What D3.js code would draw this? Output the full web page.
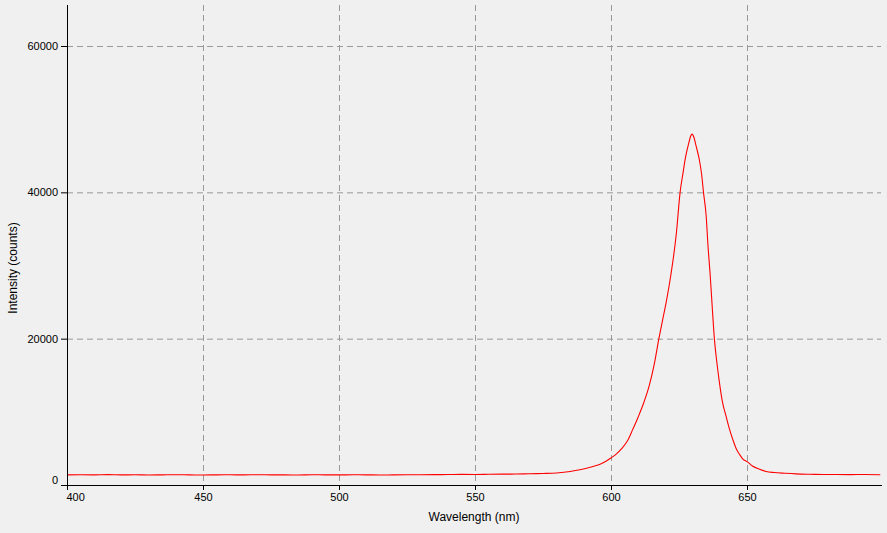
<!DOCTYPE html>
<html>
<head>
<meta charset="utf-8">
<script src="https://cdn.jsdelivr.net/npm/d3@7"></script>
<style>
  html, body { margin: 0; padding: 0; background: #f0f0f0; }
  svg { display: block; }
  text { font-family: "Liberation Sans", Arial, sans-serif; }
</style>
</head>
<body>
<svg id="chart" width="887" height="533"></svg>
<script>
// Wavelength (nm) and intensity (counts)
const wavelength = [400,405,410,415,420,425,430,435,440,445,450,455,460,465,470,475,480,485,490,495,
  500,505,510,515,520,525,530,535,540,545,550,555,560,565,570,575,580,585,588,591,594,596,598,600,
  602,604,606,608,610,612,614,616,617.6,619,620.3,622,624,625.4,626.5,627.4,628.5,629.3,629.8,630.5,
  631.3,632.5,633.3,634,635,635.6,636.5,637.2,638,639,639.9,641,642.3,643.5,644.8,646,647.3,648.5,650,
  652,654.6,657,660,664,668,673,678,683,688,693,699];
const intensity = [1380,1400,1390,1420,1380,1400,1370,1390,1410,1380,1370,1390,1400,1380,1410,1390,1380,1370,1400,1390,
  1380,1400,1390,1370,1380,1400,1410,1420,1430,1450,1440,1460,1480,1500,1540,1580,1650,1850,2050,2300,2600,2850,3200,3700,
  4250,5000,6000,7600,9300,11200,13500,16700,20000,22600,25000,28700,34300,40000,42700,44800,46600,47700,47950,47500,
  46300,44400,42500,40000,36700,33000,28500,24400,20000,16500,13900,11300,9400,7700,6200,5000,4150,3550,3200,
  2600,2150,1850,1700,1600,1520,1470,1440,1430,1420,1430,1410];
const xTicks = [400, 450, 500, 550, 600, 650];
const yTicks = [0, 20000, 40000, 60000];
const xTitle = "Wavelength (nm)";
const yTitle = "Intensity (counts)";

(function () {
const svg = d3.select("#chart");
const pL = 67, pR = 881, pT = 5, pB = 485;

const x = d3.scaleLinear().domain([400, 699.26]).range([pL, pR]);
const y = d3.scaleLinear().domain([0, 65604]).range([pB, pT]);

svg.append("rect").attr("width", 887).attr("height", 533).attr("fill", "#f0f0f0");

// grid
const grid = svg.append("g").attr("stroke", "#999").attr("stroke-width", 1).attr("stroke-dasharray", "6,4");
grid.selectAll("line.v").data(xTicks.filter(d => d > 400)).join("line").attr("class", "v")
  .attr("x1", d => x(d) + 0.5).attr("x2", d => x(d) + 0.5)
  .attr("y1", pT).attr("y2", pB);
grid.selectAll("line.h").data(yTicks.filter(d => d > 0)).join("line").attr("class", "h")
  .attr("y1", d => y(d) + 0.5).attr("y2", d => y(d) + 0.5)
  .attr("x1", pL).attr("x2", pR);

// spectrum
svg.append("clipPath").attr("id", "clip").append("rect")
  .attr("x", pL).attr("y", pT).attr("width", pR - pL).attr("height", pB - pT);
const pts = wavelength.map((w, i) => [w, intensity[i]]);
svg.append("path").datum(pts)
  .attr("clip-path", "url(#clip)")
  .attr("fill", "none").attr("stroke", "#ff0000").attr("stroke-width", 1.1)
  .attr("d", d3.line().curve(d3.curveMonotoneX).x(d => x(d[0])).y(d => y(d[1])));

// axes
const xAxis = svg.append("g").attr("transform", `translate(0,${pB})`)
  .call(d3.axisBottom(x).tickValues(xTicks).tickSize(5).tickSizeOuter(0).tickFormat(d3.format("d")));
const yAxis = svg.append("g").attr("transform", `translate(${pL},0)`)
  .call(d3.axisLeft(y).tickValues(yTicks).tickSize(6).tickSizeOuter(0).tickFormat(d3.format("d")));

[xAxis, yAxis].forEach(g => {
  g.select(".domain").attr("stroke", "#000");
  g.selectAll(".tick line").attr("stroke", "#000");
  g.selectAll(".tick text").attr("fill", "#000").attr("font-size", "11px")
    .attr("font-family", "'Liberation Sans', Arial, sans-serif");
});
xAxis.select(".domain").attr("d", `M${pL - 6},0.5H${pR + 1}`);
yAxis.select(".domain").attr("d", `M0.5,${pT}V${pB + 1}`);
xAxis.selectAll(".tick text").attr("y", 8).attr("dy", "0.71em");
xAxis.selectAll(".tick").filter(d => d === 400).select("text").attr("text-anchor", "start").attr("x", -1);
yAxis.selectAll(".tick text").attr("x", -9);
yAxis.selectAll(".tick").filter(d => d === 0).select("text").attr("dy", "-0.15em");

// titles
svg.append("text").attr("x", 474).attr("y", 521).attr("text-anchor", "middle")
  .attr("font-size", "12px").attr("fill", "#000").text(xTitle);
svg.append("text").attr("transform", "translate(17,268) rotate(-90)").attr("text-anchor", "middle")
  .attr("font-size", "12px").attr("fill", "#000").text(yTitle);
})();
</script>
</body>
</html>
